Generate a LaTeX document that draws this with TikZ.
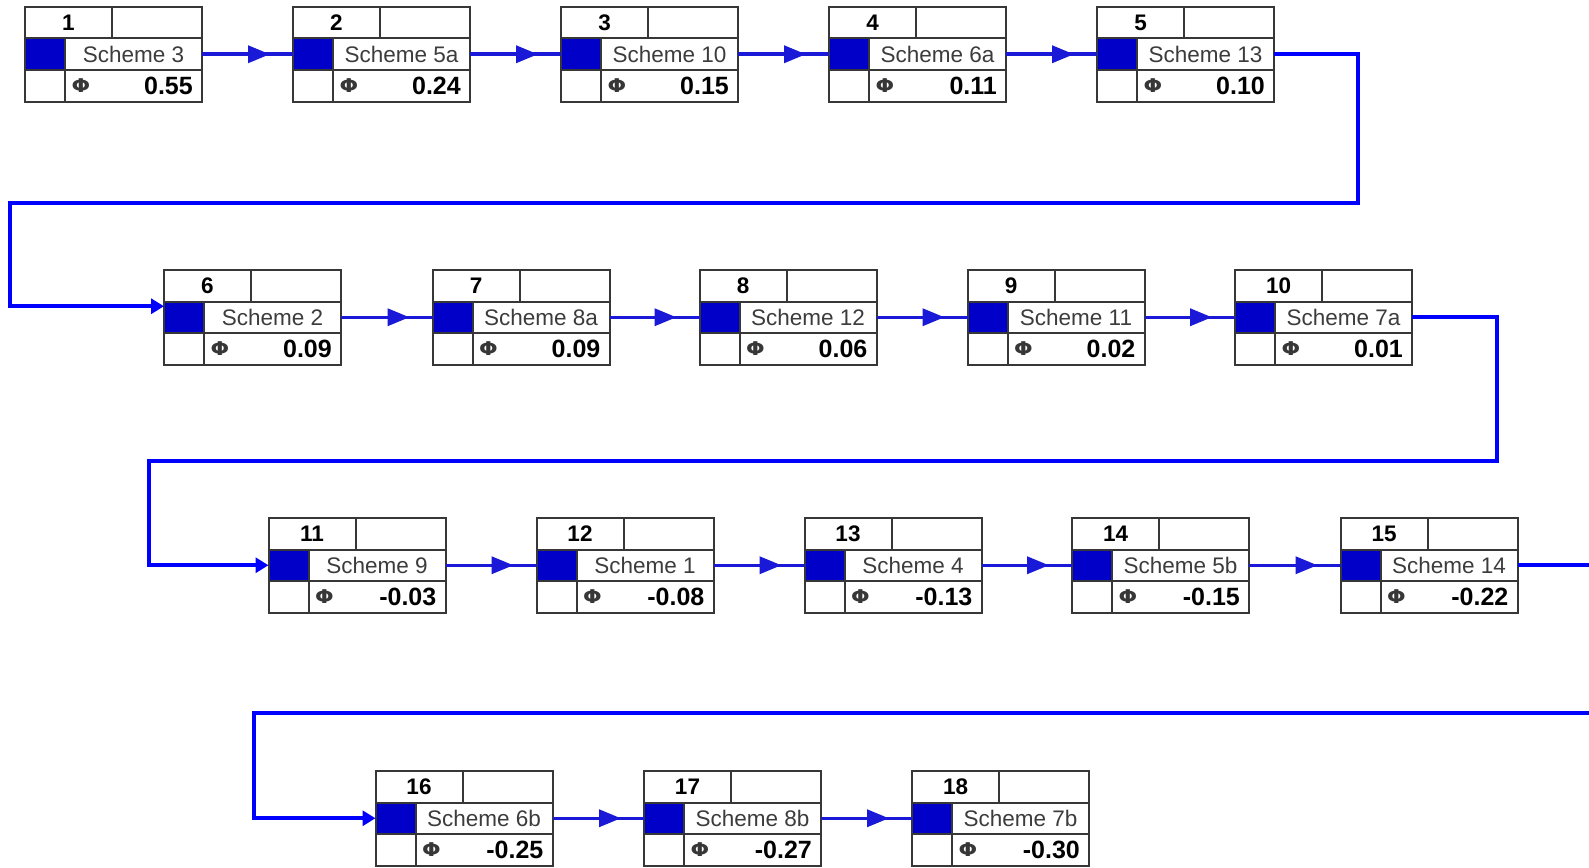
\documentclass[tikz,border=0pt]{standalone}
\usepackage{fontspec}
\setmainfont{Liberation Sans}
\newfontfamily\phifont{DejaVu Sans}
\usetikzlibrary{arrows.meta,decorations.markings,calc}
\definecolor{sqblue}{RGB}{0,0,200}
\definecolor{linkblue}{RGB}{25,25,215}
\definecolor{routeblue}{RGB}{0,0,255}
\definecolor{gridgray}{RGB}{55,55,55}
\definecolor{labgray}{RGB}{60,60,60}
\tikzset{
 box/.style={inner sep=0pt, outer sep=0pt, minimum width=177pt, minimum height=94.5pt, anchor=north west, fill=white},
 grid/.style={draw=gridgray, line width=2pt},
 sq/.style={fill=sqblue},
 numtxt/.style={inner sep=0pt, font=\fontsize{22.5}{24}\selectfont\bfseries},
 labtxt/.style={inner sep=0pt, text=labgray, font=\fontsize{22.5}{24}\selectfont},
 phitxt/.style={inner sep=0pt, text=gridgray, font=\phifont\fontsize{19}{20}\selectfont\bfseries, xscale=1.15},
 valtxt/.style={inner sep=0pt, anchor=east, font=\fontsize{25}{26}\selectfont\bfseries},
 link/.style={draw=linkblue, line width=3.5pt, postaction={decorate},
   decoration={markings, mark=at position -23pt with {\arrow[linkblue]{Triangle[length=22pt,width=17pt]}}}},
 route/.style={draw=routeblue, line width=4pt},
 routeend/.style={route, -{Triangle[length=13pt,width=15pt]}},
}
\newcommand\schemebox[6]{%
 \node[box] (#1) at (#2,#3) {};
 \begin{scope}[shift={(#2,#3)}]
  \fill[sq] (0,31.5) rectangle (40,63);
  \draw[grid] (0,31.5) -- (177,31.5) (0,63) -- (177,63) (87,0) -- (87,31.5) (40,31.5) -- (40,94.5);
  \node[numtxt] (#1num) at (43.5,16) {#4};
  \node[labtxt] (#1lab) at (108.5,47.25) {#5};
  \node[phitxt] (#1phi) at (56,79) {Φ};
  \node[valtxt] (#1val) at (168,79) {#6};
 \end{scope}
 \draw[grid] (#1.north west) rectangle (#1.south east);
}
\begin{document}
\begin{tikzpicture}[x=1pt,y=-1pt]
\fill[white] (0,0) rectangle (1589,867);
\useasboundingbox (0,0) rectangle (1589,867);
% row 1
\schemebox{n1}{25}{7}{1}{Scheme 3}{0.55}
\schemebox{n2}{293}{7}{2}{Scheme 5a}{0.24}
\schemebox{n3}{561}{7}{3}{Scheme 10}{0.15}
\schemebox{n4}{829}{7}{4}{Scheme 6a}{0.11}
\schemebox{n5}{1097}{7}{5}{Scheme 13}{0.10}
% row 2
\schemebox{n6}{164}{270}{6}{Scheme 2}{0.09}
\schemebox{n7}{432.5}{270}{7}{Scheme 8a}{0.09}
\schemebox{n8}{699.5}{270}{8}{Scheme 12}{0.06}
\schemebox{n9}{967.5}{270}{9}{Scheme 11}{0.02}
\schemebox{n10}{1235}{270}{10}{Scheme 7a}{0.01}
% row 3
\schemebox{n11}{268.5}{518}{11}{Scheme 9}{-0.03}
\schemebox{n12}{536.5}{518}{12}{Scheme 1}{-0.08}
\schemebox{n13}{804.5}{518}{13}{Scheme 4}{-0.13}
\schemebox{n14}{1072}{518}{14}{Scheme 5b}{-0.15}
\schemebox{n15}{1340.5}{518}{15}{Scheme 14}{-0.22}
% row 4
\schemebox{n16}{375.5}{771}{16}{Scheme 6b}{-0.25}
\schemebox{n17}{644}{771}{17}{Scheme 8b}{-0.27}
\schemebox{n18}{912}{771}{18}{Scheme 7b}{-0.30}
% links
\draw[link] (n1.east) -- (n2.west);
\draw[link] (n2.east) -- (n3.west);
\draw[link] (n3.east) -- (n4.west);
\draw[link] (n4.east) -- (n5.west);
\draw[link] (n6.east) -- (n7.west);
\draw[link] (n7.east) -- (n8.west);
\draw[link] (n8.east) -- (n9.west);
\draw[link] (n9.east) -- (n10.west);
\draw[link] (n11.east) -- (n12.west);
\draw[link] (n12.east) -- (n13.west);
\draw[link] (n13.east) -- (n14.west);
\draw[link] (n14.east) -- (n15.west);
\draw[link] (n16.east) -- (n17.west);
\draw[link] (n17.east) -- (n18.west);
% routes between rows
\coordinate (t1) at (1358,203);
\coordinate (t2) at (10,203);
\coordinate (e6) at ($(n6.west)+(0,-11)$);
\draw[routeend] (n5.east) -| (t1) -- (t2) |- (e6);
\coordinate (t3) at (1497,461);
\coordinate (t4) at (149,461);
\draw[routeend] (n10.east) -| (t3) -- (t4) |- (n11.west);
\coordinate (t5) at (1592,0 |- n15.east);
\draw[route] (n15.east) -- (t5);
\coordinate (t6) at (1592,713);
\coordinate (t7) at (254,713);
\draw[routeend] (t6) -- (t7) |- (n16.west);
\end{tikzpicture}
\end{document}
